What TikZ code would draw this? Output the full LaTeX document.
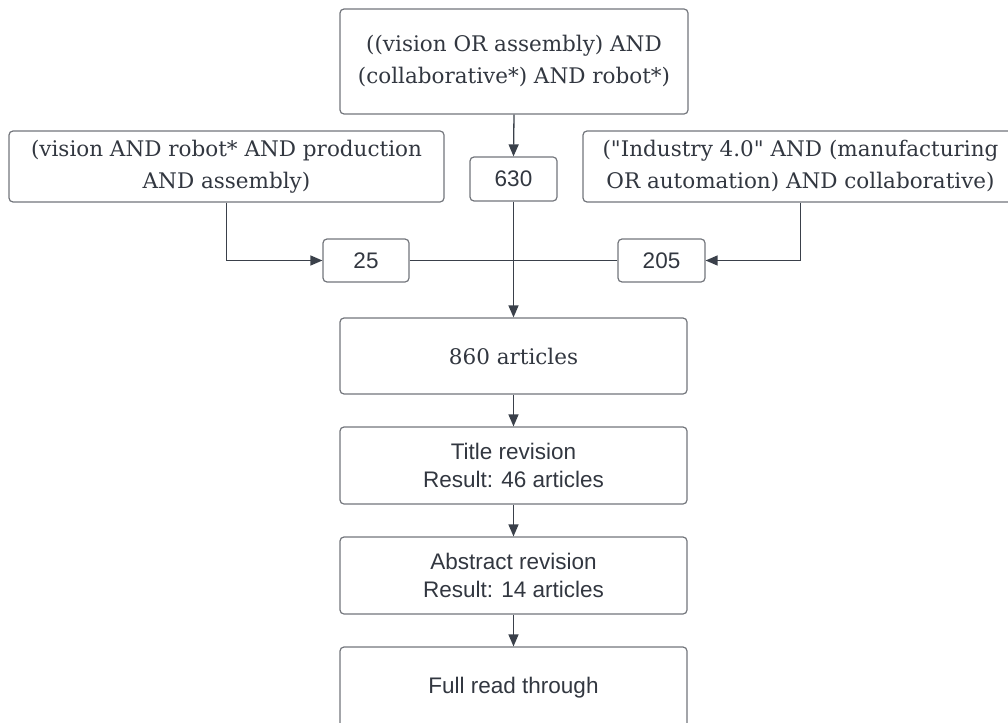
\documentclass[tikz,border=0pt]{standalone}
\usepackage{fontspec}
\setmainfont{DejaVu Serif}
\newfontfamily\labelsans{Liberation Sans}
\usetikzlibrary{arrows.meta}
\definecolor{inkc}{RGB}{50,55,64}
\definecolor{edgec}{RGB}{115,118,124}
\definecolor{wirec}{RGB}{58,64,74}
\tikzset{
  box/.style={draw=edgec, line width=1.2pt, rounded corners=4pt, fill=white,
    text=inkc, align=center, inner sep=0pt},
  qbox/.style={box, font=\fontsize{21.5}{32}\selectfont},
  sbox/.style={box, font=\labelsans\fontsize{22.5}{28}\selectfont},
  wire/.style={draw=wirec, line width=1.3pt},
  arr/.style={wire, -{Triangle[length=12pt,width=10pt]}},
}
\begin{document}
\begin{tikzpicture}[x=1pt,y=-1pt]
\useasboundingbox (0,0) rectangle (1008,722);

% search queries
\node[qbox, minimum width=348pt, minimum height=105pt] (q1) at (514,61.5)
  {((vision OR assembly) AND\\(collaborative*) AND robot*)};
\node[qbox, minimum width=435pt, minimum height=71pt] (q2) at (226.5,166.5)
  {(vision AND robot* AND production\\AND assembly)};
\node[qbox, minimum width=435pt, minimum height=71pt] (q3) at (800.5,166.5)
  {(\textquotedbl Industry 4.0\textquotedbl\ AND (manufacturing\\OR automation) AND collaborative)};

% hit counts
\node[sbox, minimum width=87pt, minimum height=44pt] (n630) at (513.5,179) {630};
\node[sbox, minimum width=86pt, minimum height=43pt] (n25) at (366,260.5) {25};
\node[sbox, minimum width=87pt, minimum height=43pt] (n205) at (661.5,260.5) {205};

% screening stages
\node[qbox, minimum width=347pt, minimum height=76pt] (all) at (513.5,356) {860 articles};
\node[sbox, minimum width=347pt, minimum height=77pt] (title) at (513.5,465.5)
  {Title revision\\Result: 46 articles};
\node[sbox, minimum width=347pt, minimum height=77pt] (abs) at (513.5,575.5)
  {Abstract revision\\Result: 14 articles};
\node[sbox, minimum width=347pt, minimum height=80pt, text depth=0pt] (full) at (513.5,687)
  {\raisebox{3pt}{Full read through}};

% merge point of the three counts
\coordinate (m) at (n630.south |- n25.east);

% connectors
\draw[arr] (q1.south) -- (n630.north);
\draw[arr] (q2.south) |- (n25.west);
\draw[arr] (q3.south) |- (n205.east);
\draw[wire] (n25.east) -- (m);
\draw[wire] (n205.west) -- (m);
\draw[arr] (n630.south) -- (all.north);
\draw[arr] (all.south) -- (title.north);
\draw[arr] (title.south) -- (abs.north);
\draw[arr] (abs.south) -- (full.north);
\end{tikzpicture}
\end{document}
